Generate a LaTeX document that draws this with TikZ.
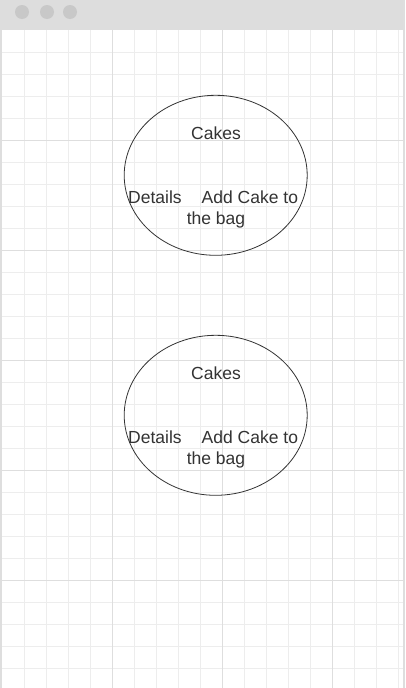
\documentclass[tikz,border=0pt]{standalone}
\usepackage{fontspec}
\setmainfont{Liberation Sans}
\usetikzlibrary{shapes.geometric}
\definecolor{gridminor}{HTML}{EDEDED}
\definecolor{gridmajor}{HTML}{DEDEDE}
\definecolor{barfill}{HTML}{DDDDDD}
\definecolor{dotfill}{HTML}{C8C8C8}
\definecolor{inktext}{HTML}{333333}
\tikzset{
  caketext/.style={text=inktext, font=\fontsize{17.5}{21}\selectfont, inner sep=0pt, anchor=base},
  cakeoval/.style={ellipse, draw=inktext, line width=0.8pt, minimum width=183pt, minimum height=160pt, inner sep=0pt}
}
\begin{document}
\begin{tikzpicture}[x=1pt, y=-1pt]
\useasboundingbox (0,0) rectangle (405,688);
\fill[white] (0,0) rectangle (405,688);
\foreach \x in {24,46,...,398}{
	\draw[gridminor, line width=1pt](\x,30)--(\x,688);
}
\foreach \y in {52,74,...,668}{
	\draw[gridminor, line width=1pt](2,\y)--(403,\y);
}
\foreach \x in {112,222,332}{
	\draw[gridmajor, line width=1pt](\x,30)--(\x,688);
}
\foreach \y in {140,250,360,470,580}{
	\draw[gridmajor, line width=1pt](2,\y)--(403,\y);
}
\fill[barfill] (0,0) rectangle (405,30);
\draw[gridmajor, line width=1.5pt](1,30)--(1,688);
\draw[gridmajor, line width=2pt](404,0)--(404,688);
\foreach \x in {22,47,70}{
	\fill[dotfill] (\x,12) circle (7);
}
\foreach \n/\y in {top/0,bottom/240}{
	\node[cakeoval] (\n oval) at (215.7,175.3+\y) {};
	\node[caketext] (\n title) at (216,139+\y) {Cakes};
	\node[caketext, anchor=base west] (\n details) at (128,203+\y) {Details};
	\node[caketext, anchor=base west] (\n add) at (201.5,203+\y) {Add Cake to};
	\node[caketext] (\n bag) at (216,224+\y) {the bag};
}
\end{tikzpicture}
\end{document}
